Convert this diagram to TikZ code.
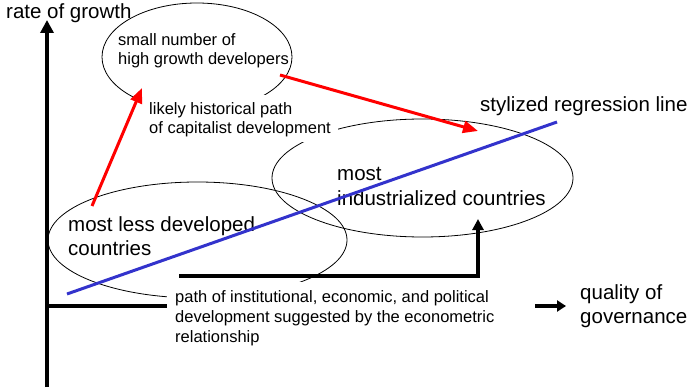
\documentclass[tikz,border=0pt]{standalone}
\usepackage{fontspec}
\setmainfont{Liberation Sans}
\usetikzlibrary{arrows.meta,shapes.geometric}
\definecolor{regblue}{RGB}{51,51,204}
\begin{document}
\begin{tikzpicture}[x=1pt,y=-1pt,
  lab/.style={font=\fontsize{20.5}{24.5}\selectfont, inner sep=0pt, anchor=base west},
  sml/.style={font=\fontsize{16.5}{19.5}\selectfont, inner sep=0pt, anchor=base west},
  blob/.style={draw, ellipse, inner sep=0pt, line width=0.8pt},
  mask/.style={fill=white, inner sep=0pt, anchor=north west},
  redarr/.style={draw=red, line width=3pt, -{Triangle[length=15pt,width=12pt]}},
  regline/.style={draw=regblue, line width=3pt},
  axisarr/.style={line width=4pt, -{Triangle[length=13pt,width=13pt]}},
  patharr/.style={line width=3.5pt, -{Triangle[length=11pt,width=11pt]}}]
\useasboundingbox (0,0) rectangle (690,390);
% ellipses
\node[blob, minimum width=190pt, minimum height=108pt] (high) at (197,57) {};
\node[blob, minimum width=301pt, minimum height=118pt] (ind) at (422.5,178) {};
\node[blob, minimum width=299pt, minimum height=116pt] (ldc) at (197.5,240) {};
% axes coordinates
\coordinate (orig) at (47,306);
\coordinate (xend) at (566,306);
\coordinate (ybot) at (47,387);
\coordinate (ytop) at (47,20);
\draw[axisarr, -{Triangle[length=9pt,width=11pt]}, line width=3.5pt] (orig) -- (xend);
% white text boxes
\node[mask, minimum width=198pt, minimum height=47pt] (histbox) at (140,95) {};
\node[mask, minimum width=368pt, minimum height=68pt] (pathbox) at (167,282) {};
% texts
\node[lab] (rog) at (6,19) {rate of growth};
\node[sml] (sn1) at (118,46) {small number of};
\node[sml] (sn2) at (118,65) {high growth developers};
\node[sml] (hp1) at (149,115) {likely historical path};
\node[sml] (hp2) at (149,134) {of capitalist development};
\node[lab] (srl) at (480,112) {stylized regression line};
\node[lab] (mi1) at (337,180) {most};
\node[lab] (mi2) at (337,205) {industrialized countries};
\node[lab] (ml1) at (68,231) {most less developed};
\node[lab] (ml2) at (68,255) {countries};
\node[sml] (pi1) at (175,302) {path of institutional, economic, and political};
\node[sml] (pi2) at (175,322) {development suggested by the econometric};
\node[sml] (pi3) at (175,342) {relationship};
\node[lab] (qg1) at (580,299) {quality of};
\node[lab] (qg2) at (580,323) {governance};
% regression line
\coordinate (rls) at (67,294);
\coordinate (rle) at (557,122);
\draw[regline] (rls) -- (rle);
% red arrows
\coordinate (r1s) at (92,206);
\coordinate (r1e) at (142,88);
\coordinate (r2s) at (280,75);
\coordinate (r2e) at (478,131);
\draw[redarr] (r1s) -- (r1e);
\draw[redarr] (r2s) -- (r2e);
% y axis
\draw[axisarr] (ybot) -- (ytop);
% econometric path arrow
\coordinate (ps) at (179,276);
\coordinate (pe) at (478,219);
\draw[patharr] (ps) -| (pe);
\end{tikzpicture}
\end{document}
